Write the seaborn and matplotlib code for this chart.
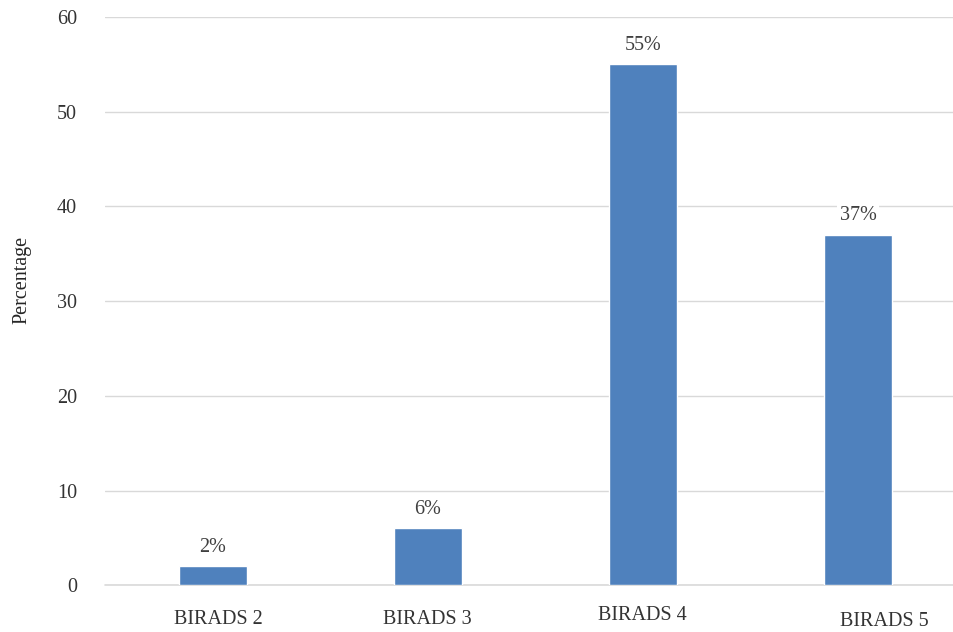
import matplotlib
matplotlib.use("Agg")
import matplotlib.pyplot as plt
import matplotlib.transforms as mtransforms
import seaborn as sns
import pandas as pd

# Data
categories = ["BIRADS 2", "BIRADS 3", "BIRADS 4", "BIRADS 5"]
percentages = [2, 6, 55, 37]
bar_labels = ["2%", "6%", "55%", "37%"]
y_ticks = [0, 10, 20, 30, 40, 50, 60]

sns.set_theme(style="white")
plt.rcParams["font.family"] = ["Liberation Serif", "DejaVu Serif"]

df = pd.DataFrame({"category": categories, "pct": percentages})

fig = plt.figure(figsize=(9.54, 6.32), dpi=100)
ax = fig.add_axes([0.110, 0.074, 0.89, 0.899])

sns.barplot(data=df, x="category", y="pct", color="#4f81bd", width=0.316,
            saturation=1, ax=ax, zorder=3)

ax.set_ylim(0, 60)
ax.set_xlim(-0.5, 3.446)
ax.set_yticks(y_ticks)
ax.yaxis.grid(True, color="#d9d9d9", linewidth=1.0, zorder=0)
ax.axhline(0, color="#d9d9d9", linewidth=1.2, clip_on=False, zorder=2)
ax.set_axisbelow(True)
sns.despine(ax=ax, left=True, bottom=True, top=True, right=True)

ax.set_xlabel("")
ax.set_ylabel("Percentage", fontsize=14.5, color="#262626")
ax.yaxis.set_label_coords(-0.086, 0.537)
ax.tick_params(axis="both", length=0, labelsize=14.5, colors="#333333")
ax.tick_params(axis="y", pad=20)
ax.tick_params(axis="x", pad=18)

# slight per-label offsets as in the reference
offsets = [(6, 0), (0, 0), (0, 4), (26, -2)]
for lbl, (dx, dy) in zip(ax.get_xticklabels(), offsets):
    lbl.set_transform(lbl.get_transform() +
                      mtransforms.ScaledTranslation(dx / 100, dy / 100, fig.dpi_scale_trans))

for i, (v, t) in enumerate(zip(percentages, bar_labels)):
    ax.annotate(t, (i, v), xytext=(0, 7), textcoords="offset points",
                ha="center", va="bottom", fontsize=14.5, color="#404040",
                bbox=dict(facecolor="white", edgecolor="none", pad=2), zorder=4)

fig.savefig("out.png", dpi=100)
plt.close(fig)
